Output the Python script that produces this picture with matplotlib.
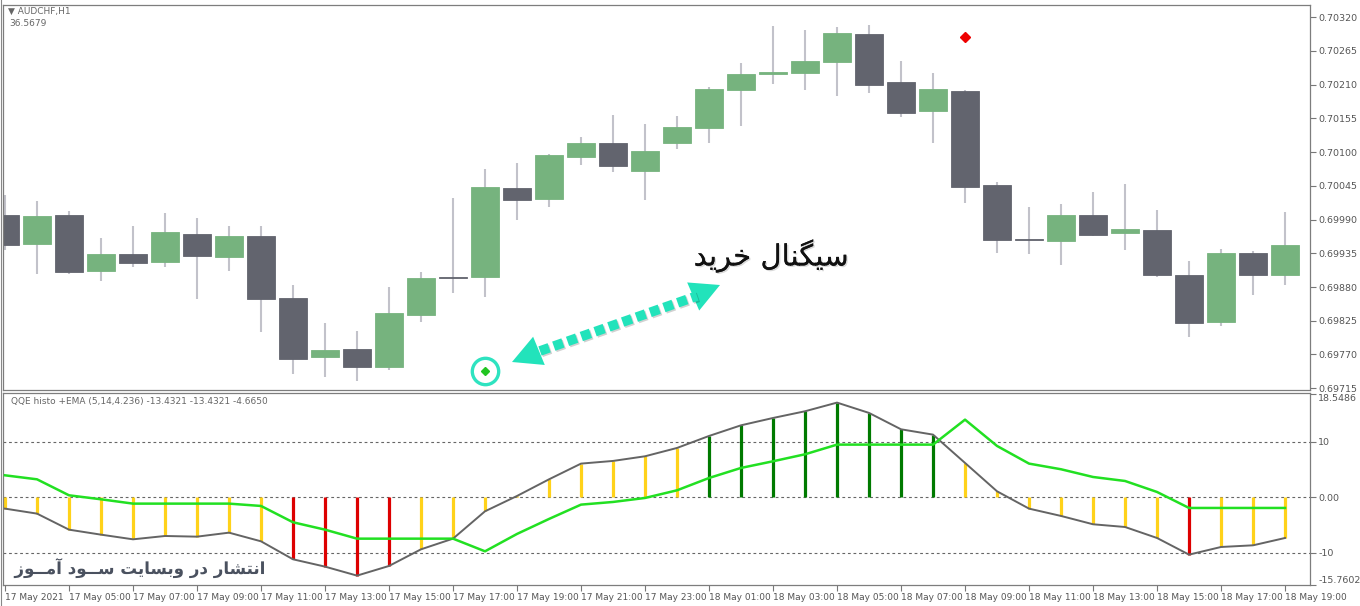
import numpy as np
import matplotlib
matplotlib.use("Agg")
import matplotlib.pyplot as plt
import matplotlib.patheffects as pe
from matplotlib.lines import Line2D

# ---------------- data ----------------
opens = [0.69997, 0.69950, 0.69997, 0.69906, 0.69934, 0.69921, 0.69966, 0.69929, 0.69963, 0.69862,
         0.69766, 0.69779, 0.69750, 0.69834, 0.69896, 0.69896, 0.70041, 0.70023, 0.70092, 0.70115,
         0.70069, 0.70115, 0.70139, 0.70201, 0.70227, 0.70229, 0.70247, 0.70292, 0.70214, 0.70167,
         0.70199, 0.70046, 0.69958, 0.69955, 0.69997, 0.69968, 0.69973, 0.69900, 0.69823, 0.69935,
         0.69900]
highs = [0.70030, 0.70020, 0.70004, 0.69960, 0.69979, 0.70001, 0.69992, 0.69979, 0.69979, 0.69883,
         0.69821, 0.69808, 0.69880, 0.69904, 0.70025, 0.70072, 0.70082, 0.70097, 0.70124, 0.70160,
         0.70146, 0.70159, 0.70206, 0.70245, 0.70305, 0.70299, 0.70304, 0.70307, 0.70248, 0.70229,
         0.70201, 0.70051, 0.70010, 0.70015, 0.70035, 0.70048, 0.70006, 0.69922, 0.69942, 0.69939,
         0.70002]
lows = [0.69940, 0.69901, 0.69901, 0.69890, 0.69913, 0.69913, 0.69860, 0.69906, 0.69807, 0.69738,
        0.69733, 0.69727, 0.69745, 0.69823, 0.69870, 0.69864, 0.69989, 0.70010, 0.70079, 0.70067,
        0.70022, 0.70105, 0.70115, 0.70142, 0.70211, 0.70201, 0.70191, 0.70196, 0.70157, 0.70115,
        0.70017, 0.69935, 0.69934, 0.69916, 0.69963, 0.69940, 0.69896, 0.69799, 0.69816, 0.69867,
        0.69883]
closes = [0.69948, 0.69996, 0.69904, 0.69934, 0.69919, 0.69970, 0.69931, 0.69963, 0.69860, 0.69763,
          0.69777, 0.69750, 0.69838, 0.69895, 0.69895, 0.70043, 0.70022, 0.70095, 0.70115, 0.70077,
          0.70102, 0.70141, 0.70203, 0.70227, 0.70230, 0.70248, 0.70294, 0.70209, 0.70164, 0.70203,
          0.70043, 0.69957, 0.69957, 0.69997, 0.69965, 0.69975, 0.69900, 0.69821, 0.69935, 0.69900,
          0.69948]

buy_signal_bar = 15
buy_signal_price = 0.69743
sell_signal_bar = 30
sell_signal_price = 0.70287

price_ticks = [0.69715, 0.69770, 0.69825, 0.69880, 0.69935, 0.69990,
               0.70045, 0.70100, 0.70155, 0.70210, 0.70265, 0.70320]

qqe_line = [-2.04, -2.94, -5.83, -6.73, -7.57, -6.97, -7.09, -6.37, -7.93, -11.17,
            -12.49, -14.11, -12.37, -9.37, -7.45, -2.52, 0.24, 3.24, 6.07, 6.55,
            7.39, 8.89, 11.05, 12.97, 14.29, 15.50, 17.06, 15.20, 12.25, 11.29,
            6.19, 1.08, -2.04, -3.36, -4.86, -5.35, -7.33, -10.33, -8.95, -8.65,
            -7.33]
ema_line = [3.96, 3.24, 0.36, -0.36, -1.14, -1.14, -1.14, -1.14, -1.56, -4.50,
            -5.83, -7.45, -7.45, -7.45, -7.45, -9.73, -6.6, -3.9, -1.32, -0.84,
            -0.12, 1.26, 3.48, 5.29, 6.49, 7.75, 9.49, 9.49, 9.49, 9.49,
            13.99, 9.25, 6.07, 5.05, 3.66, 2.94, 0.96, -1.92, -1.92, -1.92,
            -1.92]
hist_state = list("YYYYYYYYYRRRRYYYYYYYYYGGGGGGGGYYYYYYYRYYY")

ind_ticks = [18.5486, 10, 0, -10, -15.7602]
ind_tick_labels = ["18.5486", "10", "0.00", "-10", "-15.7602"]
ind_levels = [10, 0, -10]

x_tick_labels = ["17 May 2021", "17 May 05:00", "17 May 07:00", "17 May 09:00", "17 May 11:00",
                 "17 May 13:00", "17 May 15:00", "17 May 17:00", "17 May 19:00", "17 May 21:00",
                 "17 May 23:00", "18 May 01:00", "18 May 03:00", "18 May 05:00", "18 May 07:00",
                 "18 May 09:00", "18 May 11:00", "18 May 13:00", "18 May 15:00", "18 May 17:00",
                 "18 May 19:00"]

title_text = "AUDCHF,H1"
title_value = "36.5679"
ind_title = "QQE histo +EMA (5,14,4.236) -13.4321 -13.4321 -4.6650"
signal_text = "سیگنال خرید"
watermark_text = "انتشار در وبسایت ســود آمــوز"

# ---------------- minimal Arabic/Persian shaping ----------------
AR_FORMS = {
    '\u0627': ('\uFE8D', '\uFE8E', None, None),
    '\u0622': ('\uFE81', '\uFE82', None, None),
    '\u0628': ('\uFE8F', '\uFE90', '\uFE91', '\uFE92'),
    '\u062A': ('\uFE95', '\uFE96', '\uFE97', '\uFE98'),
    '\u062E': ('\uFEA5', '\uFEA6', '\uFEA7', '\uFEA8'),
    '\u062F': ('\uFEA9', '\uFEAA', None, None),
    '\u0631': ('\uFEAD', '\uFEAE', None, None),
    '\u0632': ('\uFEAF', '\uFEB0', None, None),
    '\u0633': ('\uFEB1', '\uFEB2', '\uFEB3', '\uFEB4'),
    '\u0634': ('\uFEB5', '\uFEB6', '\uFEB7', '\uFEB8'),
    '\u0644': ('\uFEDD', '\uFEDE', '\uFEDF', '\uFEE0'),
    '\u0645': ('\uFEE1', '\uFEE2', '\uFEE3', '\uFEE4'),
    '\u0646': ('\uFEE5', '\uFEE6', '\uFEE7', '\uFEE8'),
    '\u0648': ('\uFEED', '\uFEEE', None, None),
    '\u06CC': ('\uFBFC', '\uFBFD', '\uFBFE', '\uFBFF'),
    '\u06AF': ('\uFB92', '\uFB93', '\uFB94', '\uFB95'),
}
TATWEEL = '\u0640'


def _joins_next(ch):
    if ch == TATWEEL:
        return True
    f = AR_FORMS.get(ch)
    return f is not None and f[2] is not None


def _joins_prev(ch):
    return ch == TATWEEL or ch in AR_FORMS


def shape_rtl(text):
    out = []
    for i, ch in enumerate(text):
        if ch not in AR_FORMS:
            out.append(ch)
            continue
        prev = text[i - 1] if i > 0 else ''
        nxt = text[i + 1] if i + 1 < len(text) else ''
        cp = prev != '' and _joins_next(prev)
        cn = nxt != '' and _joins_prev(nxt) and _joins_next(ch)
        iso, fin, ini, med = AR_FORMS[ch]
        if cp and cn:
            out.append(med)
        elif cp:
            out.append(fin)
        elif cn:
            out.append(ini)
        else:
            out.append(iso)
    return ''.join(reversed(out))


# ---------------- figure ----------------
W, H = 1360, 606
fig = plt.figure(figsize=(W / 100, H / 100), dpi=100)
fig.patch.set_facecolor("white")


def P(x, y):
    return (x / W, 1 - y / H)


ax1 = fig.add_axes([3 / W, 1 - 390 / H, (1310 - 3) / W, (390 - 5) / H])
ax2 = fig.add_axes([3 / W, 1 - 585 / H, (1310 - 3) / W, (585 - 393) / H])

idx = np.arange(len(opens))
o = np.array(opens); c = np.array(closes); hi = np.array(highs); lo = np.array(lows)
bull = c > o
BULL, BEAR, WICK = "#76b37e", "#62646e", "#c2c2ca"
body_colors = [BULL if b else BEAR for b in bull]

ax1.vlines(idx, lo, hi, color=WICK, lw=1.5, zorder=1)
ax1.bar(idx, np.abs(c - o), bottom=np.minimum(o, c), width=0.9,
        color=body_colors, edgecolor=body_colors, linewidth=0.6, zorder=2)

ax1.plot([buy_signal_bar], [buy_signal_price], marker="D", ms=4.5, color="#22c522",
         ls="none", zorder=5)
ax1.plot([buy_signal_bar], [buy_signal_price], marker="o", ms=19, mfc="none",
         mec="#2ee3c0", mew=2.4, ls="none", zorder=5)
ax1.plot([sell_signal_bar], [sell_signal_price], marker="D", ms=4.8, color="#ee0000",
         ls="none", zorder=5)

ax1.set_xlim(-0.0625, 40.78)
ax1.set_ylim(0.69712, 0.70340)
ax1.yaxis.tick_right()
ax1.set_yticks(price_ticks)
ax1.set_yticklabels([f"{v:.5f}" for v in price_ticks])
ax1.set_xticks([])
ax1.tick_params(axis="y", direction="out", length=4, width=0.8, color="#777",
                labelsize=6.8, labelcolor="#555", pad=2)

# arrow (dotted body + two heads)
ACC = "#22e3bb"
shadow = [pe.SimpleLineShadow(offset=(1.0, -1.0), alpha=0.18), pe.Normal()]
body = Line2D([P(540, 351)[0], P(697, 296)[0]], [P(540, 351)[1], P(697, 296)[1]],
              transform=fig.transFigure, color=ACC, lw=7.0, solid_capstyle="butt",
              dash_capstyle="butt", linestyle=(0, (1.0, 0.5)), zorder=6,
              path_effects=shadow)
fig.add_artist(body)
for base, tip in [((541, 350), (512, 362)), ((692, 297), (720, 285))]:
    ax1.annotate("", xy=P(*tip), xycoords="figure fraction",
                 xytext=P(*base), textcoords="figure fraction",
                 arrowprops=dict(arrowstyle="-|>,head_length=1.05,head_width=0.55",
                                 mutation_scale=20, color=ACC, lw=0,
                                 shrinkA=0, shrinkB=0), zorder=7)

fig.text(*P(771, 256), shape_rtl(signal_text), ha="center", va="center",
         fontsize=21, color="#111", family="DejaVu Sans",
         path_effects=[pe.withSimplePatchShadow(offset=(1.0, -1.0), alpha=0.15), pe.Normal()])

fig.text(*P(8, 11), "\u25BC " + title_text, ha="left", va="center", fontsize=6.5, color="#666")
fig.text(*P(9, 23), title_value, ha="left", va="center", fontsize=6.5, color="#666")

# indicator panel
hist_colors = {"Y": "#ffd21a", "R": "#dd0000", "G": "#007a00"}
q = np.array(qqe_line)
for lvl in ind_levels:
    ax2.axhline(lvl, color="#666", lw=0.8, ls=(0, (2.5, 2.5)), zorder=1)
ax2.vlines(idx, 0, q, colors=[hist_colors[s] for s in hist_state], lw=2.3, zorder=2)
ax2.plot(idx, q, color="#646464", lw=1.4, zorder=3)
ax2.plot(idx, ema_line, color="#22e022", lw=1.8, zorder=4)

ax2.set_xlim(-0.0625, 40.78)
ax2.set_ylim(-15.80, 18.79)
ax2.yaxis.tick_right()
ax2.set_yticks(ind_ticks)
ax2.set_yticklabels(ind_tick_labels)
ax2.tick_params(axis="y", direction="out", length=4, width=0.8, color="#777",
                labelsize=6.8, labelcolor="#555", pad=2)
yt = ax2.yaxis.get_major_ticks()
yt[0].label2.set_va("top")
yt[-1].label2.set_va("bottom")

ax2.set_xticks(idx[::2])
ax2.set_xticklabels(x_tick_labels, ha="left")
ax2.tick_params(axis="x", direction="out", length=4, width=0.8, color="#777",
                labelsize=6.5, labelcolor="#555", pad=2)

ax2.text(0.006, 0.955, ind_title, transform=ax2.transAxes, ha="left", va="center",
         fontsize=6.5, color="#666")

fig.text(*P(140, 568), shape_rtl(watermark_text), ha="center", va="center",
         fontsize=12, fontweight="bold", color="#4a515f", family="DejaVu Sans",
         path_effects=[pe.withStroke(linewidth=3, foreground="white")], zorder=10)

for ax in (ax1, ax2):
    ax.set_facecolor("white")
    for s in ax.spines.values():
        s.set_color("#7d7d7d")
        s.set_linewidth(0.9)

fig.add_artist(Line2D([0.5 / W, 0.5 / W], [0, 1], transform=fig.transFigure, color="#888", lw=0.8))

fig.savefig("out.png", dpi=100, facecolor="white")
